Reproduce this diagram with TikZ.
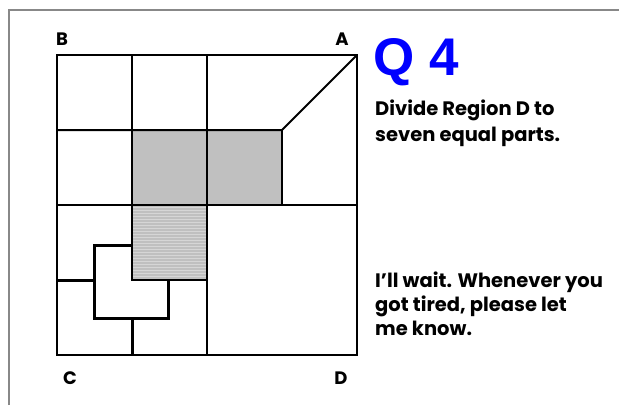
\documentclass[tikz,border=0pt]{standalone}
\usepackage{fontspec}
\usepackage{xcolor}
\usetikzlibrary{positioning}
\newfontfamily\gothic{Poppins}
\newfontfamily\arialb{Liberation Sans}
\definecolor{Frame}    {HTML}{888888}
\definecolor{Shade}    {HTML}{C0C0C0}
\definecolor{Stripe}   {HTML}{D6D6D6}
\definecolor{Qblue}    {HTML}{0000FF}

\begin{document}
\begin{tikzpicture}[x=1pt, y=-1pt, line join=miter]
  \useasboundingbox (0,0) rectangle (619,405);
  % page frame
  \draw[Frame, line width=2.4pt] (9,405) -- (9,10) -- (619,10);
  % shaded cells
  \fill[Shade] (132,130) rectangle (282,205);
  \fill[Shade] (132,205) rectangle (207,280);
  \foreach \y in {207,210,...,278}
    \draw[Stripe, line width=0.8pt] (133,\y) -- (206,\y);
  % outer square and grid
  \draw[line width=2pt] (57,55) rectangle (357,355);
  \draw[line width=2pt] (132,55) -- (132,205);
  \draw[line width=2pt] (207,55) -- (207,355);
  \draw[line width=2pt] (57,130) -- (282,130) -- (357,55);
  \draw[line width=2pt] (57,205) -- (357,205);
  \draw[line width=2pt] (282,130) -- (282,205);
  \draw[line width=2pt] (132,205) -- (132,280) -- (207,280);
  % thick cut lines
  \draw[line width=3pt] (57,280) -- (94,280) -- (94,245) -- (132,245);
  \draw[line width=3pt] (94,280) -- (94,318) -- (168,318) -- (168,280);
  \draw[line width=3pt] (132,318) -- (132,356);
  % corner labels
  \node[font=\gothic\bfseries\fontsize{18}{18}\selectfont] (lblB) at (62,39) {B};
  \node[font=\gothic\bfseries\fontsize{18}{18}\selectfont] (lblA) at (342,39) {A};
  \node[font=\gothic\bfseries\fontsize{18}{18}\selectfont] (lblC) at (70,378) {C};
  \node[font=\gothic\bfseries\fontsize{18}{18}\selectfont] (lblD) at (341,378) {D};
  % question text
  \node[anchor=base west, inner sep=0pt, text=Qblue, font=\arialb\bfseries\fontsize{53}{53}\selectfont] (qnum) at (373,75) {Q 4};
  \node[anchor=base west, inner sep=0pt, align=left, font=\gothic\bfseries\fontsize{19.5}{26}\selectfont] (task) at (375,141) {Divide Region D to\\seven equal parts.};
  \node[anchor=base west, inner sep=0pt, align=left, font=\gothic\bfseries\fontsize{19.5}{24}\selectfont] (wait) at (375,335) {I’ll wait. Whenever you\\got tired, please let\\me know.};
\end{tikzpicture}
\end{document}
